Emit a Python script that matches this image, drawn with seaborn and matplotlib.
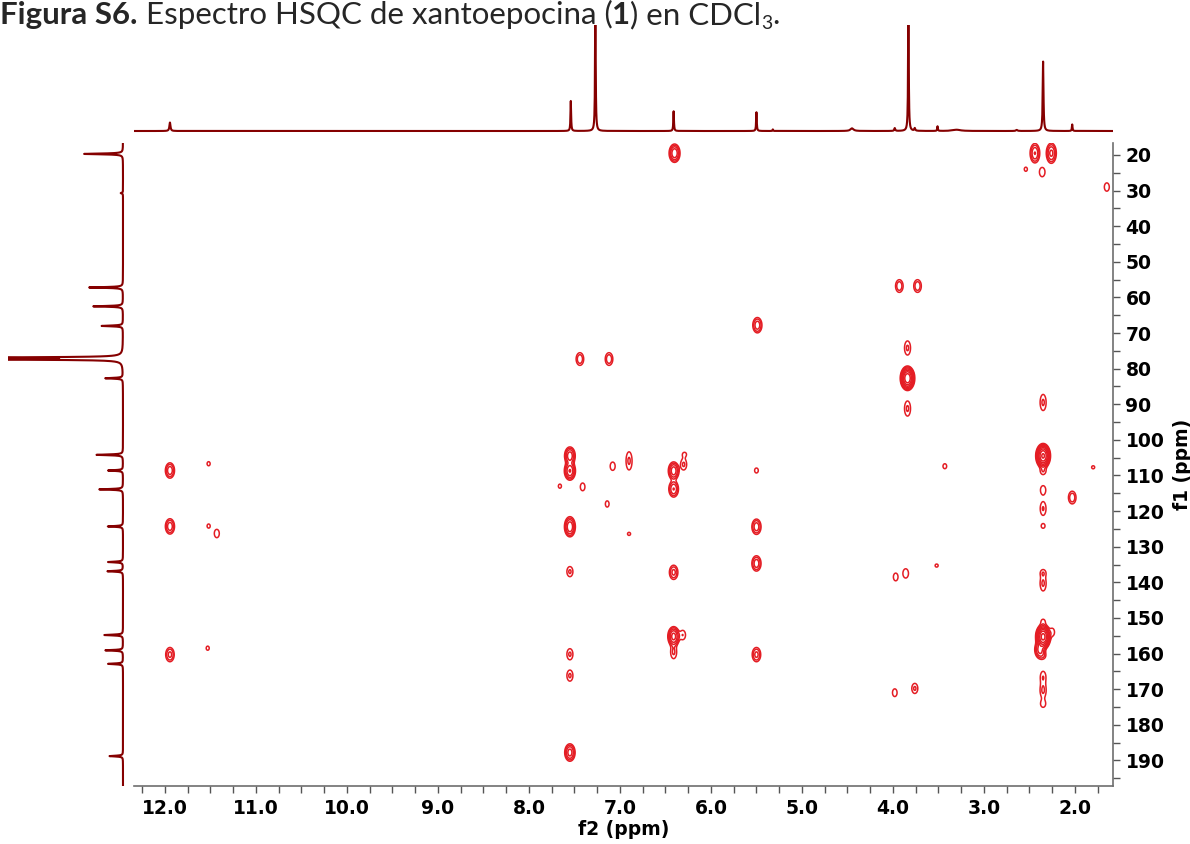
import numpy as np
import pandas as pd
import matplotlib
matplotlib.use("Agg")
import matplotlib.pyplot as plt
import matplotlib.transforms as mtransforms
from matplotlib.ticker import MultipleLocator, FormatStrFormatter
import seaborn as sns

# ---------------- data ----------------
# 1H projection (top): chemical shift, relative height, line half-width (ppm)
h1_ppm = [11.945, 7.54, 7.27, 6.41, 5.50, 5.32, 4.45, 3.98, 3.83, 3.76, 3.51, 3.30, 2.64, 2.35, 2.03]
h1_height = [0.08, 0.283, 1.30, 0.186, 0.177, 0.015, 0.025, 0.027, 1.30, 0.025, 0.044, 0.012, 0.010, 0.655, 0.062]
h1_width = [0.007, 0.004, 0.004, 0.004, 0.004, 0.004, 0.02, 0.006, 0.004, 0.006, 0.004, 0.05, 0.01, 0.005, 0.004]

# 13C projection (left): chemical shift, relative height
c13_ppm = [19.7, 30.7, 57.2, 62.5, 68.0, 76.9, 77.4, 82.7, 104.2, 108.6, 113.9, 124.3,
           134.3, 136.9, 154.8, 159.1, 162.9, 188.8]
c13_height = [0.338, 0.02, 0.294, 0.258, 0.185, 1.30, 1.30, 0.153, 0.23, 0.13, 0.206, 0.132,
              0.13, 0.135, 0.162, 0.153, 0.13, 0.117]

# 2D cross peaks: f2 (1H) ppm, f1 (13C) ppm, intensity, f1 elongation
cross_h = [2.35, 2.35, 3.84,
           6.40, 2.44, 2.26, 5.49, 7.55, 7.55, 7.55, 6.41, 6.41, 6.41, 7.55,
           11.945, 11.945, 11.945, 5.50, 5.50, 5.50, 6.41, 2.385, 3.93, 3.73, 7.44, 7.12, 2.03,
           3.84, 3.84, 2.35, 2.35, 2.35, 2.35, 2.35, 2.35, 2.35, 2.35, 2.35, 2.35, 2.35, 2.35,
           6.90, 7.08, 6.30, 6.29, 7.41, 7.66, 7.14, 6.90, 7.55, 7.55, 7.55, 6.41, 6.31, 5.50,
           11.52, 11.52, 11.43, 11.53, 2.54, 2.36, 1.65, 1.80, 3.43, 3.97, 3.86, 3.52, 3.98, 3.76, 2.25]
cross_c = [104.5, 155.3, 82.7,
           19.5, 19.5, 19.5, 67.8, 104.5, 108.7, 124.4, 108.7, 113.8, 155.2, 187.8,
           108.6, 124.3, 160.3, 124.4, 134.7, 160.3, 137.2, 158.9, 56.8, 56.8, 77.3, 77.3, 116.2,
           74.2, 91.2, 89.5, 108.7, 114.1, 119.3, 140.3, 137.3, 166.5, 170.4, 174.2, 124.2, 151.0, 160.6,
           105.9, 107.4, 106.9, 104.0, 113.2, 113.0, 118.0, 126.4, 137.0, 160.2, 166.2, 159.6, 154.8, 108.6,
           106.7, 124.2, 126.3, 158.5, 24.0, 24.8, 29.0, 107.7, 107.4, 138.5, 137.5, 135.3, 171.0, 169.8, 154.0]
cross_int = [70, 80, 60,
             10, 6, 7, 5, 9, 11, 10, 9, 6, 14, 8,
             5, 5, 4, 5, 5, 4, 4, 8, 3, 3, 3, 3, 3,
             2, 2, 2, 1.8, 1.7, 1.9, 2.0, 1.4, 1.7, 2.0, 1.5, 1.3, 1.3, 1.4,
             2, 1.6, 2.0, 1.2, 1.5, 1.2, 1.3, 1.2, 2.0, 2.0, 2.0, 2.0, 1.8, 1.3,
             1.2, 1.2, 1.6, 1.2, 1.2, 1.8, 1.6, 1.2, 1.3, 1.5, 1.8, 1.2, 1.5, 2.0, 1.5]
cross_stretch = [1.0, 1.0, 1.0,
                 1.0, 1.2, 1.2, 1.0, 1.0, 1.0, 1.1, 1.0, 1.0, 1.0, 1.0,
                 1.0, 1.0, 1.0, 1.0, 1.0, 1.0, 1.0, 1.0, 1.0, 1.0, 1.0, 1.0, 1.0,
                 1.4, 1.5, 1.6, 0.8, 1.0, 1.4, 1.5, 0.7, 1.2, 1.4, 0.8, 0.7, 0.7, 0.7,
                 1.8, 1.0, 1.1, 0.6, 1.0, 0.8, 1.0, 0.6, 1.0, 1.1, 1.1, 1.3, 1.0, 0.8,
                 0.8, 0.8, 1.0, 0.8, 0.8, 1.0, 1.0, 0.6, 0.8, 1.0, 1.0, 0.6, 1.0, 1.0, 1.0]

x_major = [12.0, 11.0, 10.0, 9.0, 8.0, 7.0, 6.0, 5.0, 4.0, 3.0, 2.0]
y_major = [20, 30, 40, 50, 60, 70, 80, 90, 100, 110, 120, 130, 140, 150, 160, 170, 180, 190]
x_label = "f2 (ppm)"
y_label = "f1 (ppm)"
title_parts = [("Figura S6.", "bold"), (" Espectro HSQC de xantoepocina (", "normal"),
               ("1", "bold"), (") en CDCl", "normal"), ("3", "sub"), (".", "normal")]

# ---------------- style ----------------
sns.set_theme(style="white")
plt.rcParams["font.family"] = ["DejaVu Sans"]

W, H = 1190, 844
fig = plt.figure(figsize=(W / 100, H / 100), dpi=100)
fig.patch.set_facecolor("white")

XL, XR = 12.34, 1.582
YT, YB = 16.55, 197.2
px_l, px_r, px_t, px_b = 134, 1113, 142.7, 786

def fr(l, t, r, b):
    return [l / W, 1 - b / H, (r - l) / W, (b - t) / H]

ax = fig.add_axes(fr(px_l, px_t, px_r, px_b))
ax_top = fig.add_axes(fr(px_l, 25, px_r, 134), sharex=ax)
ax_left = fig.add_axes(fr(8, px_t, 126, px_b), sharey=ax)

line_col = "#850000"
cont_col = "#e41d24"

# ---------------- 2D contours ----------------
gx = np.arange(1.3, 12.5, 0.006)
gy = np.arange(15.0, 199.0, 0.2)
Z = np.zeros((gy.size, gx.size))
sh = 0.028
sc = 1.2
for h, c, a, s in zip(cross_h, cross_c, cross_int, cross_stretch):
    ex = np.exp(-0.5 * ((gx - h) / sh) ** 2)
    ey = np.exp(-0.5 * ((gy - c) / (sc * s)) ** 2)
    Z += a * np.outer(ey, ex)
levels = [1.0 * 1.8 ** k for k in range(9)]
ax.contour(gx, gy, Z, levels=levels, colors=cont_col, linewidths=1.1)

ax.set_xlim(XL, XR)
ax.set_ylim(YB, YT)
ax.xaxis.set_major_locator(MultipleLocator(1.0))
ax.xaxis.set_minor_locator(MultipleLocator(0.25))
ax.xaxis.set_major_formatter(FormatStrFormatter("%.1f"))
ax.yaxis.set_major_locator(MultipleLocator(10))
ax.yaxis.set_minor_locator(MultipleLocator(5))
ax.yaxis.tick_right()
ax.yaxis.set_label_position("right")
for sp in ["top", "left"]:
    ax.spines[sp].set_visible(False)
for sp in ["bottom", "right"]:
    ax.spines[sp].set_color("#6e6e6e")
    ax.spines[sp].set_linewidth(1.2)
ax.tick_params(axis="both", which="both", direction="out", color="#555555", width=1.0,
               length=5, labelsize=13.5, pad=4, labelcolor="black")
ax.tick_params(axis="y", which="both", left=False, right=True)
ax.tick_params(axis="x", which="both", bottom=True, top=False)
ax.set_yticks(y_major)
ax.set_yticklabels([str(v) for v in y_major], fontweight="bold")
ax.set_xticks(x_major)
ax.set_xticklabels([f"{v:.1f}" for v in x_major], fontweight="bold")
ax.set_xlim(XL, XR)
ax.set_ylim(YB, YT)
ax.set_xlabel(x_label, fontsize=13.5, fontweight="bold", labelpad=2, color="black")
ax.set_ylabel(y_label, fontsize=13.5, fontweight="bold", labelpad=6, rotation=90, color="black")
ax.set_facecolor("none")

# ---------------- top 1H projection ----------------
hx = np.arange(1.3, 12.5, 0.001)
hy = np.zeros_like(hx)
for p, a, w in zip(h1_ppm, h1_height, h1_width):
    hy += a * w ** 2 / ((hx - p) ** 2 + w ** 2)
df_top = pd.DataFrame({"ppm": hx, "I": hy})
sns.lineplot(data=df_top, x="ppm", y="I", ax=ax_top, color=line_col, linewidth=1.5,
             estimator=None, sort=False)
ax_top.set_ylim(-3 / 106, 1.0)
ax_top.axis("off")

# ---------------- left 13C projection ----------------
cy = np.arange(15.0, 199.0, 0.02)
cx = np.zeros_like(cy)
for p, a in zip(c13_ppm, c13_height):
    w = 0.13
    cx += a * w ** 2 / ((cy - p) ** 2 + w ** 2)
df_left = pd.DataFrame({"ppm": cy, "I": cx})
sns.lineplot(data=df_left, x="I", y="ppm", ax=ax_left, color=line_col, linewidth=1.5,
             estimator=None, sort=False, orient="y")
ax_left.set_xlim(1.0, -3 / 115)
ax_left.axis("off")
ax.set_ylim(YB, YT)
ax.set_xlim(XL, XR)

# ---------------- title ----------------
fig.canvas.draw()
renderer = fig.canvas.get_renderer()
xpos, base = 0.0, H - 24
fam = ["Lato", "DejaVu Sans"]
fs = 22.5
for txt, kind in title_parts:
    if kind == "sub":
        t = fig.text(xpos, base - 5, txt, fontsize=fs * 0.62, family=fam,
                     transform=mtransforms.IdentityTransform(), va="baseline", ha="left")
    else:
        t = fig.text(xpos, base, txt, fontsize=fs, family=fam,
                     fontweight=("bold" if kind == "bold" else "normal"),
                     transform=mtransforms.IdentityTransform(), va="baseline", ha="left")
    bb = t.get_window_extent(renderer=renderer)
    xpos = bb.x1

fig.savefig("out.png", dpi=100, facecolor="white")
